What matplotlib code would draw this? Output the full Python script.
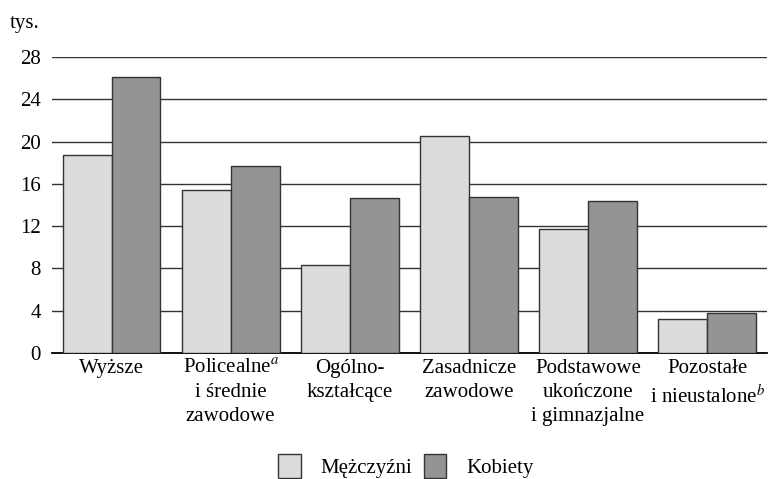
import numpy as np
import matplotlib.pyplot as plt
from matplotlib.patches import Patch

plt.rcParams['font.family'] = 'Liberation Serif'
plt.rcParams['mathtext.fontset'] = 'stix'

kategorie = ['Wyższe', 'Policealne$^{\\mathit{a}}$\ni średnie\nzawodowe', 'Ogólno-\nkształcące',
             'Zasadnicze\nzawodowe', 'Podstawowe\nukończone\ni gimnazjalne',
             'Pozostałe\ni nieustalone$^{\\mathit{b}}$']
mezczyzni = [18.7, 15.4, 8.35, 20.5, 11.7, 3.2]
kobiety = [26.1, 17.7, 14.7, 14.8, 14.4, 3.8]
yticks = [0, 4, 8, 12, 16, 20, 24, 28]

fig = plt.figure(figsize=(7.8, 4.79), dpi=100)
ax = fig.add_axes([0.0667, 0.263, 0.9163, 0.618])

x = np.arange(len(kategorie))
w = 0.41
ax.bar(x - w/2, mezczyzni, w, color='#dcdcdc', edgecolor='#333333', linewidth=1, zorder=3)
ax.bar(x + w/2, kobiety, w, color='#949494', edgecolor='#333333', linewidth=1, zorder=3)

ax.set_xlim(-0.5, len(kategorie) - 0.5)
ax.set_ylim(0, 28)
ax.set_yticks(yticks)
ax.set_yticklabels([str(t) for t in yticks], fontsize=15)
ax.yaxis.grid(True, color='#333333', linewidth=1)
ax.set_axisbelow(True)
ax.tick_params(axis='y', length=0, pad=8)
ax.tick_params(axis='x', length=0, pad=4)
ax.set_xticks(x)
ax.set_xticklabels(kategorie, fontsize=15, linespacing=1.38, va='top')
for s in ['left', 'right', 'top']:
    ax.spines[s].set_visible(False)
ax.spines['bottom'].set_color('black')
ax.spines['bottom'].set_linewidth(1.3)

fig.text(0.013, 0.95, 'tys.', fontsize=15, ha='left', va='center')

handles = [Patch(facecolor='#dcdcdc', edgecolor='#333333', label='Mężczyźni'),
           Patch(facecolor='#949494', edgecolor='#333333', label='Kobiety')]
fig.legend(handles=handles, loc='lower center', bbox_to_anchor=(0.52, 0.0), ncol=2, frameon=False,
           fontsize=15, handlelength=1.1, handleheight=1.35, columnspacing=0.55, handletextpad=0.95,
           borderaxespad=0, borderpad=0.05)

fig.savefig('out.png', dpi=100)
